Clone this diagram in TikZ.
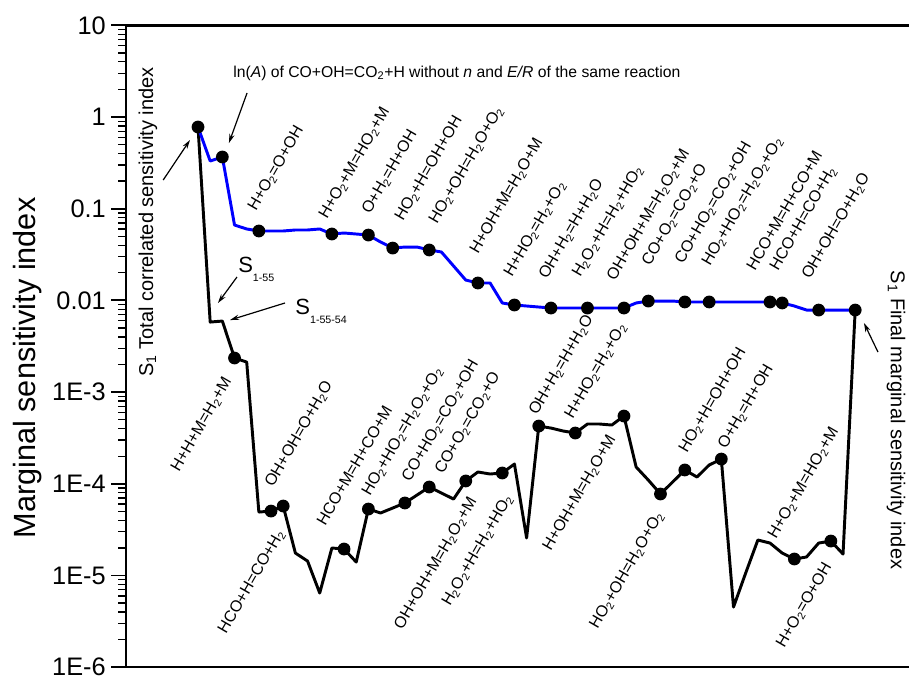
\documentclass[tikz,border=0pt]{standalone}
\usepackage{fontspec}
\setmainfont{Liberation Sans}
\usepackage{tikz}
\usetikzlibrary{arrows.meta}
\definecolor{lineblue}{HTML}{0000FF}
\newcommand{\dn}[1]{\textsubscript{#1}}
\newcommand{\lsub}[1]{\raisebox{-6.5pt}{\fontsize{8}{9}\selectfont#1}}
\tikzset{
  ar/.style={-{Stealth[length=2.4mm,width=1.4mm]},line width=0.9pt,black},
  frm/.style={line width=1.8pt,black},
  tkmaj/.style={line width=1.4pt,black},
  tkmin/.style={line width=1pt,black},
  blu/.style={line width=2.2pt,lineblue,line join=round},
  blk/.style={line width=2.2pt,black,line join=round},
  rlab/.style={font=\fontsize{12}{14}\selectfont,rotate=60,inner sep=0pt},
  ticklab/.style={font=\fontsize{19}{21}\selectfont,anchor=east,inner sep=0pt},
  side/.style={font=\fontsize{15}{17}\selectfont,inner sep=0pt},
  sname/.style={font=\fontsize{16.5}{18}\selectfont,anchor=base west,inner sep=0pt}
}
\begin{document}
\begin{tikzpicture}[x=9.1275pt,y=68.775pt]
\useasboundingbox (-15.27,-6.085) rectangle (59.42,1.276);
\def\xa{-4.94}
\draw[frm] (\xa,1) -- (59.42,1);
\draw[frm] (\xa,-6) -- (59.42,-6);
\draw[frm] (\xa,-6) -- (\xa,1);
\foreach \d/\lab [count=\k] in {1/10,0/1,-1/0.1,-2/0.01,-3/1E-3,-4/1E-4,-5/1E-5,-6/1E-6}{
  \draw[tkmaj] (\xa,\d) -- ++(-11pt,0);
  \node[ticklab] (tl\k) at (-6.56,\d) {\lab};
}
\foreach \d in {-6,...,0}{\foreach \m in {2,...,9}{\draw[tkmin] (\xa,{\d+log10(\m)}) -- ++(-5.5pt,0);}}
\node[font=\fontsize{23}{26}\selectfont,rotate=90,anchor=base,inner sep=0pt] (ylab) at (-12.39,-2.737) {Marginal sensitivity index};

\draw[blk] plot coordinates {(1,-0.109) (2,-2.236) (3,-2.225) (4,-2.628) (5,-2.672) (6,-4.308) (7,-4.297) (8,-4.242) (9,-4.755) (10,-4.842) (11,-5.191) (12,-4.700) (13,-4.711) (14,-4.853) (15,-4.275) (16,-4.318) (17,-4.264) (18,-4.209) (19,-4.122) (20,-4.035) (21,-4.100) (22,-4.166) (23,-3.969) (24,-3.871) (25,-3.893) (26,-3.882) (27,-3.784) (28,-4.591) (29,-3.370) (30,-3.392) (31,-3.424) (32,-3.446) (33,-3.348) (34,-3.348) (35,-3.359) (36,-3.261) (37,-3.817) (38,-3.959) (39,-4.111) (40,-3.980) (41,-3.849) (42,-3.926) (43,-3.795) (44,-3.730) (45,-5.344) (46,-4.973) (47,-4.613) (48,-4.646) (49,-4.755) (50,-4.820) (51,-4.798) (52,-4.646) (53,-4.624) (54,-4.766) (55,-2.105)};
\draw[blu] plot coordinates {(1,-0.109) (2,-0.480) (3,-0.436) (4,-1.178) (5,-1.221) (6,-1.243) (7,-1.243) (8,-1.243) (9,-1.232) (10,-1.232) (11,-1.221) (12,-1.276) (13,-1.265) (14,-1.276) (15,-1.287) (16,-1.363) (17,-1.429) (18,-1.418) (19,-1.418) (20,-1.450) (21,-1.472) (22,-1.625) (23,-1.778) (24,-1.810) (25,-1.810) (26,-2.028) (27,-2.050) (28,-2.061) (29,-2.072) (30,-2.083) (31,-2.083) (32,-2.083) (33,-2.083) (34,-2.083) (35,-2.083) (36,-2.083) (37,-2.028) (38,-2.007) (39,-2.007) (40,-2.007) (41,-2.017) (42,-2.017) (43,-2.017) (44,-2.017) (45,-2.017) (46,-2.017) (47,-2.017) (48,-2.017) (49,-2.028) (50,-2.061) (51,-2.105) (52,-2.105) (53,-2.105) (54,-2.105) (55,-2.105)};
\foreach \i/\v in {1/-0.109,3/-0.436,6/-1.243,12/-1.276,15/-1.287,17/-1.429,20/-1.450,24/-1.810,27/-2.050,30/-2.083,33/-2.083,36/-2.083,38/-2.007,41/-2.017,43/-2.017,48/-2.017,49/-2.028,52/-2.105,55/-2.105}{\fill (\i,\v) circle (4.8pt);}
\foreach \i/\v in {4/-2.628,7/-4.297,8/-4.242,13/-4.711,15/-4.275,18/-4.209,20/-4.035,23/-3.969,26/-3.882,29/-3.370,32/-3.446,36/-3.261,39/-4.111,41/-3.849,44/-3.730,50/-4.820,53/-4.624}{\fill (\i,\v) circle (4.8pt);}

\foreach \i/\v/\txt [count=\k] in {5.77/-1.036/H+O\dn2=O+OH,11.60/-1.123/H+O\dn2+M=HO\dn2+M,15.13/-1.069/O+H\dn2=H+OH,17.85/-1.145/HO\dn2+H=OH+OH,20.64/-1.178/HO\dn2+OH=H\dn2O+O\dn2,24.0/-1.505/H+OH+M=H\dn2O+M,26.80/-1.756/H+HO\dn2=H\dn2+O\dn2,29.67/-1.778/OH+H\dn2=H+H\dn2O,32.4/-1.756/H\dn2O\dn2+H=H\dn2+HO\dn2,35.26/-1.799/OH+OH+M=H\dn2O\dn2+M,38.14/-1.636/CO+O\dn2=CO\dn2+O,40.85/-1.614/CO+HO\dn2=CO\dn2+OH,43.07/-1.636/HO\dn2+HO\dn2=H\dn2O\dn2+O\dn2,46.77/-1.690/HCO+M=H+CO+M,48.65/-1.690/HCO+H=CO+H\dn2,51.29/-1.778/OH+OH=O+H\dn2O}
  {\node[rlab,anchor=base west] (bu\k) at (\i,\v) {\txt};}
\foreach \i/\v/\txt [count=\k] in {7.16/-4.046/OH+OH=O+H\dn2O,11.45/-4.471/HCO+M=H+CO+M,15.13/-4.144/HO\dn2+HO\dn2=H\dn2O\dn2+O\dn2,18.42/-3.991/CO+HO\dn2=CO\dn2+OH,21.13/-3.904/CO+O\dn2=CO\dn2+O,28.85/-3.261/OH+H\dn2=H+H\dn2O,31.8/-3.304/H+HO\dn2=H\dn2+O\dn2,41.18/-3.675/HO\dn2+H=OH+OH,44.39/-3.631/O+H\dn2=H+OH,48.49/-4.613/H+O\dn2+M=HO\dn2+M}
  {\node[rlab,anchor=base west] (ku\k) at (\i,\v) {\txt};}
\foreach \i/\v/\txt [count=\k] in {3.79/-2.879/H+H+M=H\dn2+M,8.15/-4.537/HCO+H=CO+H\dn2,23.93/-4.188/OH+OH+M=H\dn2O\dn2+M,26.88/-4.155/H\dn2O\dn2+H=H\dn2+HO\dn2,35.35/-3.511/H+OH+M=H\dn2O+M,39.29/-4.340/HO\dn2+OH=H\dn2O+O\dn2,53.1/-4.896/H+O\dn2=O+OH}
  {\node[rlab,anchor=base east] (kd\k) at (\i,\v) {\txt};}

\node[font=\fontsize{11.8}{14}\selectfont,anchor=base west,inner sep=0pt] (lnA) at (3.876,0.436) {ln(\textit{A}) of CO+OH=CO\dn2+H without \textit{n} and \textit{E/R} of the same reaction};
\coordinate (lnAa) at (5.03,0.262);
\coordinate (lnAb) at (3.54,-0.284);
\draw[ar] (lnAa) -- (lnAb);
\node[side,rotate=90] (stot) at (-3.11,-1.145) {S\dn1 Total correlated sensitivity index};
\coordinate (stota) at (-1.86,-0.687);
\coordinate (stotb) at (0.34,-0.251);
\draw[ar] (stota) -- (stotb);
\node[sname] (s155) at (4.29,-1.701) {S\lsub{1-55}};
\coordinate (s155a) at (4.20,-1.745);
\coordinate (s155b) at (2.64,-2.028);
\draw[ar] (s155a) -- (s155b);
\node[sname] (s15554) at (8.98,-2.159) {S\lsub{1-55-54}};
\coordinate (s15554a) at (8.15,-2.028);
\coordinate (s15554b) at (3.63,-2.214);
\draw[ar] (s15554a) -- (s15554b);
\node[side,rotate=-90] (sfin) at (58.35,-3.304) {S\dn1 Final marginal sensitivity index};
\coordinate (sfina) at (56.87,-2.563);
\coordinate (sfinb) at (55.72,-2.246);
\draw[ar] (sfina) -- (sfinb);
\end{tikzpicture}
\end{document}
